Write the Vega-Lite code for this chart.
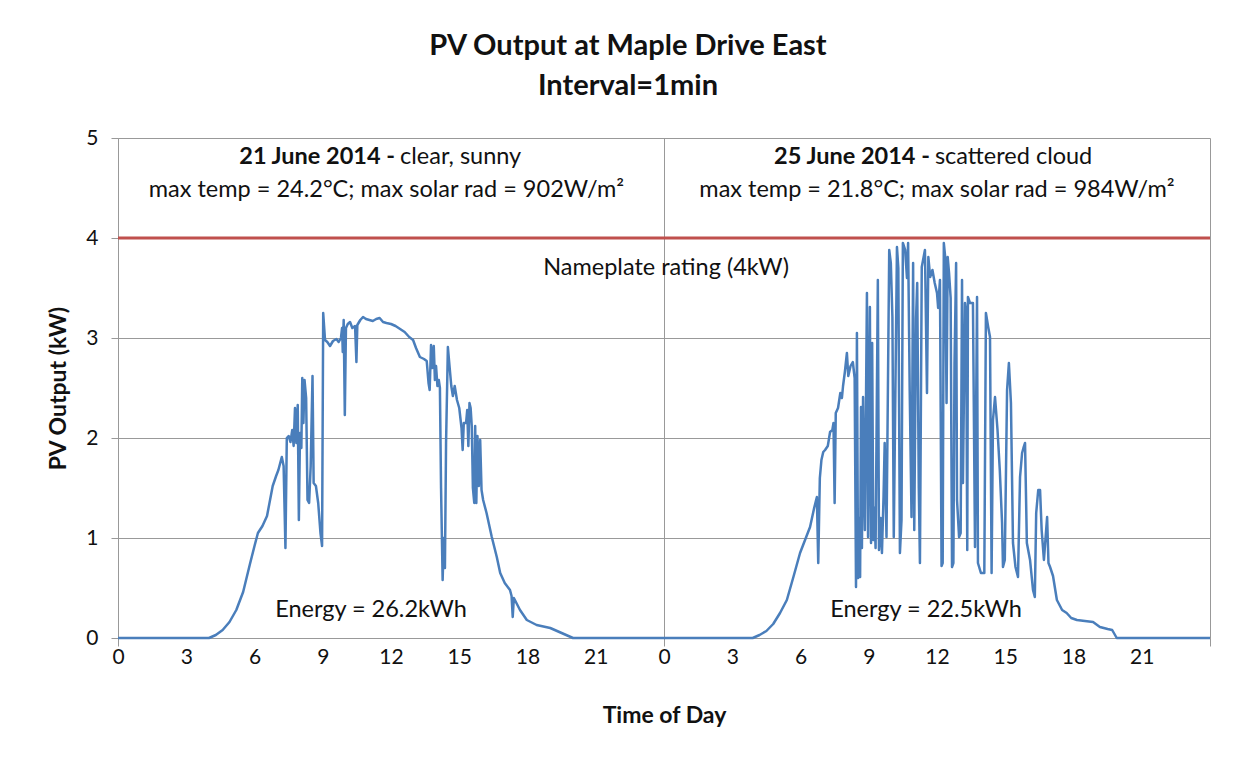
{
  "$schema": "https://vega.github.io/schema/vega-lite/v6.json",
  "width": 1092,
  "height": 500,
  "autosize": {"type": "none"},
  "padding": {"left": 118, "top": 138, "right": 38, "bottom": 120},
  "background": "white",
  "config": {
    "font": "Lato",
    "view": {"stroke": null},
    "text": {"font": "Lato", "fontSize": 23.5, "color": "#111"}
  },
  "title": {
    "text": ["PV Output at Maple Drive East", "Interval=1min"],
    "font": "Lato",
    "fontSize": 29,
    "fontWeight": "bold",
    "color": "#111",
    "anchor": "middle",
    "dx": -36,
    "offset": 26,
    "lineHeight": 40
  },
  "layer": [
    {
      "data": {"values": [
        {"t":0,"kw":0},{"t":4.0,"kw":0},{"t":4.3,"kw":0.03},{"t":4.6,"kw":0.08},{"t":4.9,"kw":0.16},
        {"t":5.2,"kw":0.28},{"t":5.5,"kw":0.46},{"t":5.8,"kw":0.74},{"t":6.0,"kw":0.92},{"t":6.15,"kw":1.05},
        {"t":6.35,"kw":1.12},{"t":6.55,"kw":1.22},{"t":6.8,"kw":1.52},{"t":6.95,"kw":1.62},{"t":7.05,"kw":1.68},
        {"t":7.2,"kw":1.81},{"t":7.28,"kw":1.72},{"t":7.36,"kw":0.9},{"t":7.42,"kw":2.0},{"t":7.5,"kw":2.02},
        {"t":7.58,"kw":1.96},{"t":7.66,"kw":2.08},{"t":7.72,"kw":1.92},{"t":7.78,"kw":2.3},{"t":7.84,"kw":1.95},
        {"t":7.9,"kw":2.33},{"t":7.95,"kw":1.18},{"t":8.0,"kw":2.05},{"t":8.06,"kw":1.9},{"t":8.1,"kw":2.6},
        {"t":8.15,"kw":2.15},{"t":8.2,"kw":2.58},{"t":8.27,"kw":2.4},{"t":8.33,"kw":1.38},{"t":8.4,"kw":1.35},
        {"t":8.47,"kw":1.72},{"t":8.55,"kw":2.62},{"t":8.6,"kw":1.55},{"t":8.7,"kw":1.52},{"t":8.8,"kw":1.35},
        {"t":8.9,"kw":1.05},{"t":8.97,"kw":0.92},{"t":9.02,"kw":3.25},{"t":9.1,"kw":2.98},{"t":9.2,"kw":2.96},
        {"t":9.32,"kw":2.92},{"t":9.45,"kw":2.97},{"t":9.6,"kw":2.99},{"t":9.7,"kw":2.96},{"t":9.8,"kw":3.0},
        {"t":9.85,"kw":3.1},{"t":9.88,"kw":2.86},{"t":9.92,"kw":3.18},{"t":9.97,"kw":2.23},{"t":10.02,"kw":3.1},
        {"t":10.1,"kw":3.14},{"t":10.2,"kw":3.16},{"t":10.3,"kw":3.1},{"t":10.42,"kw":3.12},{"t":10.48,"kw":2.76},
        {"t":10.52,"kw":3.13},{"t":10.65,"kw":3.18},{"t":10.77,"kw":3.21},{"t":10.9,"kw":3.19},{"t":11.05,"kw":3.18},
        {"t":11.2,"kw":3.17},{"t":11.35,"kw":3.19},{"t":11.5,"kw":3.2},{"t":11.65,"kw":3.16},{"t":11.8,"kw":3.15},
        {"t":12.0,"kw":3.14},{"t":12.2,"kw":3.12},{"t":12.4,"kw":3.09},{"t":12.6,"kw":3.06},{"t":12.8,"kw":3.01},
        {"t":12.97,"kw":2.98},{"t":13.1,"kw":2.9},{"t":13.27,"kw":2.81},{"t":13.45,"kw":2.79},{"t":13.57,"kw":2.77},
        {"t":13.65,"kw":2.55},{"t":13.7,"kw":2.48},{"t":13.76,"kw":2.93},{"t":13.82,"kw":2.7},{"t":13.88,"kw":2.92},
        {"t":13.93,"kw":2.58},{"t":13.98,"kw":2.72},{"t":14.04,"kw":2.52},{"t":14.1,"kw":2.58},{"t":14.15,"kw":2.5},
        {"t":14.2,"kw":1.5},{"t":14.27,"kw":0.58},{"t":14.32,"kw":1.0},{"t":14.37,"kw":0.7},{"t":14.42,"kw":1.95},
        {"t":14.5,"kw":2.91},{"t":14.58,"kw":2.7},{"t":14.65,"kw":2.52},{"t":14.72,"kw":2.42},{"t":14.8,"kw":2.52},
        {"t":14.9,"kw":2.38},{"t":15.0,"kw":2.3},{"t":15.1,"kw":2.1},{"t":15.15,"kw":1.88},{"t":15.2,"kw":2.15},
        {"t":15.3,"kw":2.15},{"t":15.35,"kw":2.28},{"t":15.4,"kw":1.92},{"t":15.45,"kw":2.35},{"t":15.5,"kw":2.3},
        {"t":15.55,"kw":2.12},{"t":15.6,"kw":1.5},{"t":15.66,"kw":1.35},{"t":15.7,"kw":2.12},{"t":15.75,"kw":1.35},
        {"t":15.8,"kw":2.02},{"t":15.86,"kw":1.52},{"t":15.92,"kw":1.98},{"t":15.98,"kw":1.48},{"t":16.05,"kw":1.38},
        {"t":16.2,"kw":1.25},{"t":16.43,"kw":1.01},{"t":16.65,"kw":0.81},{"t":16.8,"kw":0.65},{"t":17.0,"kw":0.55},
        {"t":17.23,"kw":0.48},{"t":17.3,"kw":0.42},{"t":17.35,"kw":0.21},{"t":17.4,"kw":0.4},{"t":17.67,"kw":0.28},
        {"t":17.97,"kw":0.18},{"t":18.4,"kw":0.13},{"t":19.0,"kw":0.1},{"t":19.3,"kw":0.07},{"t":19.6,"kw":0.04},
        {"t":20.0,"kw":0},{"t":24.0,"kw":0},
        {"t":27.9,"kw":0},{"t":28.2,"kw":0.03},{"t":28.5,"kw":0.07},{"t":28.8,"kw":0.14},{"t":29.1,"kw":0.25},
        {"t":29.4,"kw":0.38},{"t":29.7,"kw":0.62},{"t":29.98,"kw":0.85},{"t":30.2,"kw":0.98},{"t":30.42,"kw":1.11},
        {"t":30.6,"kw":1.3},{"t":30.72,"kw":1.41},{"t":30.78,"kw":0.75},{"t":30.85,"kw":1.6},{"t":30.92,"kw":1.78},
        {"t":31.0,"kw":1.86},{"t":31.08,"kw":1.88},{"t":31.2,"kw":1.92},{"t":31.3,"kw":2.06},{"t":31.4,"kw":2.08},
        {"t":31.45,"kw":2.15},{"t":31.5,"kw":1.35},{"t":31.55,"kw":2.25},{"t":31.65,"kw":2.3},{"t":31.75,"kw":2.45},
        {"t":31.82,"kw":2.4},{"t":31.87,"kw":2.52},{"t":31.95,"kw":2.66},{"t":32.04,"kw":2.85},{"t":32.1,"kw":2.62},
        {"t":32.2,"kw":2.72},{"t":32.3,"kw":2.76},{"t":32.38,"kw":2.6},{"t":32.44,"kw":0.51},{"t":32.48,"kw":3.05},
        {"t":32.53,"kw":0.6},{"t":32.58,"kw":1.2},{"t":32.62,"kw":0.61},{"t":32.66,"kw":2.31},{"t":32.7,"kw":0.9},
        {"t":32.75,"kw":2.41},{"t":32.8,"kw":1.5},{"t":32.83,"kw":1.08},{"t":32.92,"kw":3.45},{"t":32.97,"kw":1.01},
        {"t":33.05,"kw":3.31},{"t":33.1,"kw":0.95},{"t":33.15,"kw":2.95},{"t":33.2,"kw":0.98},{"t":33.25,"kw":1.3},
        {"t":33.3,"kw":0.9},{"t":33.4,"kw":3.58},{"t":33.45,"kw":0.88},{"t":33.52,"kw":1.2},{"t":33.58,"kw":0.85},
        {"t":33.65,"kw":1.41},{"t":33.7,"kw":1.95},{"t":33.78,"kw":1.01},{"t":33.9,"kw":3.88},{"t":33.97,"kw":3.75},
        {"t":34.04,"kw":3.21},{"t":34.1,"kw":1.01},{"t":34.24,"kw":3.91},{"t":34.3,"kw":3.7},{"t":34.37,"kw":0.85},
        {"t":34.44,"kw":1.18},{"t":34.5,"kw":3.95},{"t":34.6,"kw":3.88},{"t":34.68,"kw":3.6},{"t":34.73,"kw":3.95},
        {"t":34.8,"kw":2.48},{"t":34.88,"kw":1.21},{"t":34.95,"kw":3.75},{"t":35.0,"kw":1.08},{"t":35.08,"kw":3.2},
        {"t":35.13,"kw":3.55},{"t":35.2,"kw":1.5},{"t":35.25,"kw":0.75},{"t":35.33,"kw":3.71},{"t":35.47,"kw":3.88},
        {"t":35.56,"kw":2.45},{"t":35.62,"kw":3.81},{"t":35.7,"kw":3.61},{"t":35.8,"kw":3.68},{"t":35.9,"kw":3.55},
        {"t":36.0,"kw":3.45},{"t":36.05,"kw":3.3},{"t":36.13,"kw":3.58},{"t":36.2,"kw":0.72},{"t":36.25,"kw":0.75},
        {"t":36.3,"kw":3.95},{"t":36.36,"kw":3.81},{"t":36.42,"kw":2.35},{"t":36.47,"kw":3.81},{"t":36.53,"kw":3.65},
        {"t":36.6,"kw":3.4},{"t":36.66,"kw":0.71},{"t":36.72,"kw":0.75},{"t":36.77,"kw":2.75},{"t":36.84,"kw":3.75},
        {"t":36.88,"kw":1.38},{"t":36.97,"kw":1.01},{"t":37.04,"kw":1.05},{"t":37.1,"kw":3.58},{"t":37.14,"kw":1.55},
        {"t":37.23,"kw":3.35},{"t":37.28,"kw":3.25},{"t":37.33,"kw":0.88},{"t":37.36,"kw":3.41},{"t":37.45,"kw":3.35},
        {"t":37.58,"kw":3.35},{"t":37.67,"kw":0.91},{"t":37.76,"kw":3.41},{"t":37.8,"kw":0.75},{"t":37.93,"kw":0.65},
        {"t":38.08,"kw":0.65},{"t":38.15,"kw":3.25},{"t":38.25,"kw":3.11},{"t":38.33,"kw":3.01},{"t":38.4,"kw":0.65},
        {"t":38.46,"kw":2.18},{"t":38.55,"kw":2.41},{"t":38.66,"kw":2.08},{"t":38.76,"kw":1.68},{"t":38.86,"kw":1.15},
        {"t":38.9,"kw":0.71},{"t":38.98,"kw":0.78},{"t":39.08,"kw":2.48},{"t":39.16,"kw":2.75},{"t":39.25,"kw":2.35},
        {"t":39.34,"kw":0.95},{"t":39.45,"kw":0.71},{"t":39.56,"kw":0.61},{"t":39.65,"kw":1.61},{"t":39.74,"kw":1.85},
        {"t":39.8,"kw":1.9},{"t":39.87,"kw":1.95},{"t":39.95,"kw":0.95},{"t":40.09,"kw":0.78},{"t":40.22,"kw":0.48},
        {"t":40.3,"kw":0.41},{"t":40.36,"kw":1.25},{"t":40.45,"kw":1.48},{"t":40.53,"kw":1.48},{"t":40.6,"kw":1.08},
        {"t":40.7,"kw":0.78},{"t":40.84,"kw":1.21},{"t":40.9,"kw":0.75},{"t":40.97,"kw":0.71},{"t":41.1,"kw":0.62},
        {"t":41.27,"kw":0.38},{"t":41.5,"kw":0.28},{"t":41.7,"kw":0.25},{"t":41.9,"kw":0.2},{"t":42.15,"kw":0.18},
        {"t":42.5,"kw":0.17},{"t":42.86,"kw":0.16},{"t":43.16,"kw":0.11},{"t":43.5,"kw":0.09},{"t":43.7,"kw":0.08},
        {"t":43.9,"kw":0},{"t":48.0,"kw":0}
      ]},
      "mark": {"type": "line", "color": "#4a7ebb", "strokeWidth": 2.5, "strokeJoin": "round"},
      "encoding": {
        "x": {
          "field": "t",
          "type": "quantitative",
          "scale": {"domain": [0, 48], "nice": false, "zero": false},
          "axis": {
            "title": "Time of Day",
            "titleFont": "Lato",
            "titleFontSize": 23,
            "titleFontWeight": "bold",
            "titleColor": "#111",
            "titleBaseline": "middle",
            "titleY": 77,
            "values": [0, 3, 6, 9, 12, 15, 18, 21, 24, 27, 30, 33, 36, 39, 42, 45, 48],
            "labelExpr": "datum.value >= 48 ? '' : '' + (datum.value % 24)",
            "labelFont": "Lato",
            "labelFontSize": 21,
            "labelColor": "#111",
            "labelPadding": 0,
            "labelFlush": false,
            "labelOverlap": false,
            "tickSize": 8,
            "tickColor": "#999",
            "tickOpacity": {"condition": {"test": "datum.value % 24 === 0", "value": 1}, "value": 0},
            "domainColor": "#999",
            "grid": true,
            "gridColor": "#999",
            "gridOpacity": {"condition": {"test": "datum.value % 24 === 0", "value": 1}, "value": 0}
          }
        },
        "y": {
          "field": "kw",
          "type": "quantitative",
          "scale": {"domain": [0, 5], "nice": false},
          "axis": {
            "title": "PV Output (kW)",
            "titleFont": "Lato",
            "titleFontSize": 23,
            "titleFontWeight": "bold",
            "titleColor": "#111",
            "titleAngle": 270,
            "titleBaseline": "middle",
            "titleAlign": "center",
            "titleX": -60,
            "titleY": 250,
            "values": [0, 1, 2, 3, 4, 5],
            "format": "d",
            "labelFont": "Lato",
            "labelFontSize": 21,
            "labelColor": "#111",
            "labelPadding": 13,
            "tickSize": 7,
            "tickColor": "#999",
            "domainColor": "#999",
            "grid": true,
            "gridColor": "#999"
          }
        }
      }
    },
    {
      "data": {"values": [{"kw": 4}]},
      "mark": {"type": "rule", "color": "#c0504d", "strokeWidth": 3},
      "encoding": {"y": {"field": "kw", "type": "quantitative"}}
    },
    {
      "data": {"values": [
        {"t": 12.18, "kw": 4.81, "label": "21 June 2014 -"},
        {"t": 35.69, "kw": 4.81, "label": "25 June 2014 -"}
      ]},
      "mark": {"type": "text", "align": "right", "baseline": "middle", "fontWeight": "bold"},
      "encoding": {
        "x": {"field": "t", "type": "quantitative"},
        "y": {"field": "kw", "type": "quantitative"},
        "text": {"field": "label"}
      }
    },
    {
      "data": {"values": [
        {"t": 12.18, "kw": 4.81, "label": "clear, sunny"},
        {"t": 35.69, "kw": 4.81, "label": "scattered cloud"}
      ]},
      "mark": {"type": "text", "align": "left", "baseline": "middle", "dx": 5},
      "encoding": {
        "x": {"field": "t", "type": "quantitative"},
        "y": {"field": "kw", "type": "quantitative"},
        "text": {"field": "label"}
      }
    },
    {
      "data": {"values": [
        {"t": 11.8, "kw": 4.48, "label": "max temp = 24.2°C; max solar rad = 902W/m²"},
        {"t": 36.0, "kw": 4.48, "label": "max temp = 21.8°C; max solar rad = 984W/m²"},
        {"t": 24.09, "kw": 3.7, "label": "Nameplate rating (4kW)"},
        {"t": 11.12, "kw": 0.28, "label": "Energy = 26.2kWh"},
        {"t": 35.52, "kw": 0.28, "label": "Energy = 22.5kWh"}
      ]},
      "mark": {"type": "text", "align": "center", "baseline": "middle"},
      "encoding": {
        "x": {"field": "t", "type": "quantitative"},
        "y": {"field": "kw", "type": "quantitative"},
        "text": {"field": "label"}
      }
    }
  ]
}
